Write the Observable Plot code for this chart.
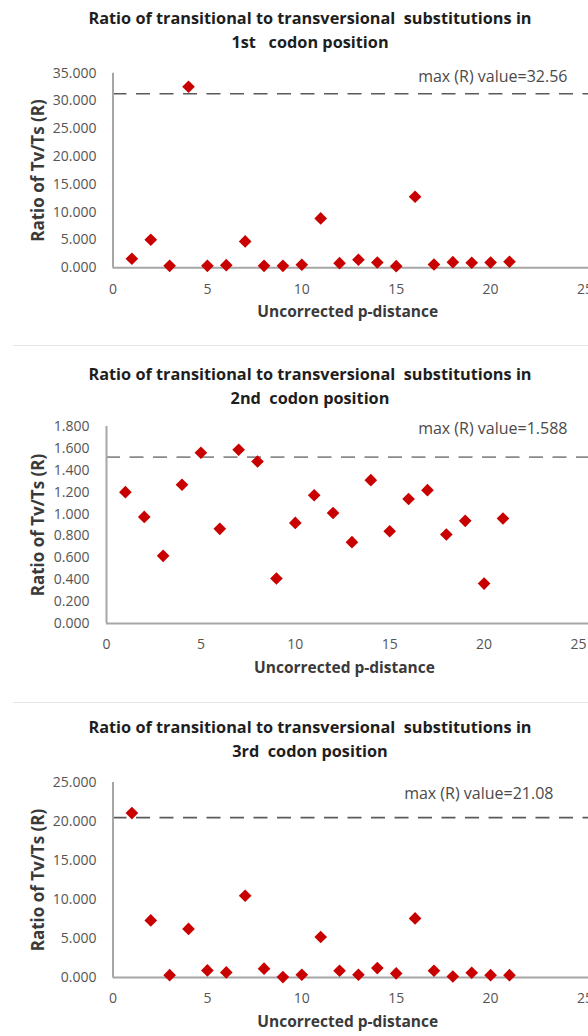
<!DOCTYPE html>
<html><head><meta charset="utf-8">
<script src="https://cdn.jsdelivr.net/npm/d3@7"></script>
<script src="https://cdn.jsdelivr.net/npm/@observablehq/plot@0.6"></script>
<style>
html,body{margin:0;padding:0;background:#fff;}
#root{position:relative;width:588px;height:1036px;overflow:hidden;font-family:"Open Sans", sans-serif;}
.title{position:absolute;left:0;width:620px;text-align:center;font-weight:bold;font-size:16.3px;color:#1e1e1e;white-space:pre;line-height:24px;}
.sep{position:absolute;left:13px;right:0;height:0;border-top:1.5px solid #e4e4e4;}
.panel{position:absolute;left:0;}
</style></head><body><div id="root"></div>
<script>
const pDistance = [1,2,3,4,5,6,7,8,9,10,11,12,13,14,15,16,17,18,19,20,21];
const ratio1st = [1.62,5.04,0.36,32.56,0.36,0.48,4.74,0.36,0.36,0.54,8.88,0.84,1.44,0.96,0.30,12.78,0.60,1.02,0.90,0.96,1.08];
const ratio2nd = [1.200,0.974,0.618,1.268,1.560,0.865,1.588,1.480,0.411,0.919,1.172,1.010,0.743,1.310,0.843,1.138,1.218,0.813,0.938,0.365,0.959];
const ratio3rd = [21.08,7.32,0.30,6.23,0.91,0.65,10.48,1.13,0.05,0.35,5.19,0.87,0.35,1.21,0.52,7.58,0.87,0.13,0.61,0.30,0.30];
const thresholds = [31.3, 1.52, 20.5];
const maxLabels = ["max (R) value=32.56", "max (R) value=1.588", "max (R) value=21.08"];
const titles = [
  "Ratio of transitional to transversional  substitutions in\n1st   codon position",
  "Ratio of transitional to transversional  substitutions in\n2nd  codon position",
  "Ratio of transitional to transversional  substitutions in\n3rd  codon position"
];
const xTicks = [0,5,10,15,20,25];
const yTicks1st = [0,5,10,15,20,25,30,35];
const yTicks2nd = [0,0.2,0.4,0.6,0.8,1.0,1.2,1.4,1.6,1.8];
const yTicks3rd = [0,5,10,15,20,25];
const xLabel = "Uncorrected p-distance";
const yLabel = "Ratio of Tv/Ts (R)";

const root = document.getElementById("root");

const panels = [
  {values: ratio1st, yTicks: yTicks1st, ymax: 35, threshold: thresholds[0], maxLabel: maxLabels[0], title: titles[0],
   titleTop: 6, svgTop: 50, height: 280, ml: 112.5, mt: 22.7, mb: 62.7, tp: 16.5, mdx: -21, mdy: -2.7, dash: "#5a5a5a", sep: 345},
  {values: ratio2nd, yTicks: yTicks2nd, ymax: 1.8, threshold: thresholds[1], maxLabel: maxLabels[1], title: titles[1],
   titleTop: 361.5, svgTop: 405, height: 290, ml: 106, mt: 21, mb: 72, tp: 17, mdx: -21, mdy: -4, dash: "#8a8a8a", sep: 702},
  {values: ratio3rd, yTicks: yTicks3rd, ymax: 25, threshold: thresholds[2], maxLabel: maxLabels[2], title: titles[2],
   titleTop: 715, svgTop: 760, height: 276, ml: 112.5, mt: 22, mb: 59, tp: 16.5, mdx: -35, mdy: 5, dash: "#5a5a5a", sep: null}
];

for (const cfg of panels) {
  const t = document.createElement("div");
  t.className = "title";
  t.style.top = cfg.titleTop + "px";
  t.textContent = cfg.title;
  root.appendChild(t);

  const data = pDistance.map((d, i) => ({x: d, y: cfg.values[i]}));
  const chart = Plot.plot({
    width: 588, height: cfg.height,
    marginLeft: cfg.ml, marginRight: 0, marginTop: cfg.mt, marginBottom: cfg.mb,
    style: {fontFamily: "'Open Sans', sans-serif", fontSize: "14px", color: "#555555", background: "transparent", overflow: "visible"},
    x: {domain: [0, 25 * (588 - cfg.ml) / 472]},
    y: {domain: [0, cfg.ymax]},
    marks: [
      Plot.ruleY([cfg.threshold], {stroke: cfg.dash, strokeWidth: 1.6, strokeDasharray: "14,9.5"}),
      Plot.ruleX([{x: 0, y1: 0, y2: cfg.ymax}], {x: "x", y1: "y1", y2: "y2", stroke: "#a6a6a6", strokeWidth: 2}),
      Plot.ruleY([0], {stroke: "#a6a6a6", strokeWidth: 2}),
      Plot.axisX({ticks: xTicks, tickSize: 0, tickPadding: 16, label: null, tickFormat: d3.format("d")}),
      Plot.axisY({ticks: cfg.yTicks, tickSize: 0, tickPadding: cfg.tp, tickFormat: d3.format(".3f"), label: null}),
      Plot.text([xLabel], {frameAnchor: "bottom", dy: 49, dx: -3, fontWeight: "bold", fontSize: 15.5, fill: "#3a3a3a"}),
      Plot.text([yLabel], {frameAnchor: "left", textAnchor: "middle", rotate: -90, dx: -(cfg.ml - 38), fontWeight: "bold", fontSize: 17, fill: "#3a3a3a"}),
      Plot.text([cfg.maxLabel], {frameAnchor: "top-right", textAnchor: "end", dx: cfg.mdx, dy: cfg.mdy, fontSize: 16, fill: "#4a4a4a"}),
      Plot.dot(data, {x: "x", y: "y", symbol: "diamond2", r: 5.7, fill: "#c80000", stroke: "none"})
    ]
  });
  const wrap = document.createElement("div");
  wrap.className = "panel";
  wrap.style.top = cfg.svgTop + "px";
  wrap.appendChild(chart);
  root.appendChild(wrap);

  if (cfg.sep != null) {
    const s = document.createElement("div");
    s.className = "sep";
    s.style.top = cfg.sep + "px";
    root.appendChild(s);
  }
}
</script></body></html>
